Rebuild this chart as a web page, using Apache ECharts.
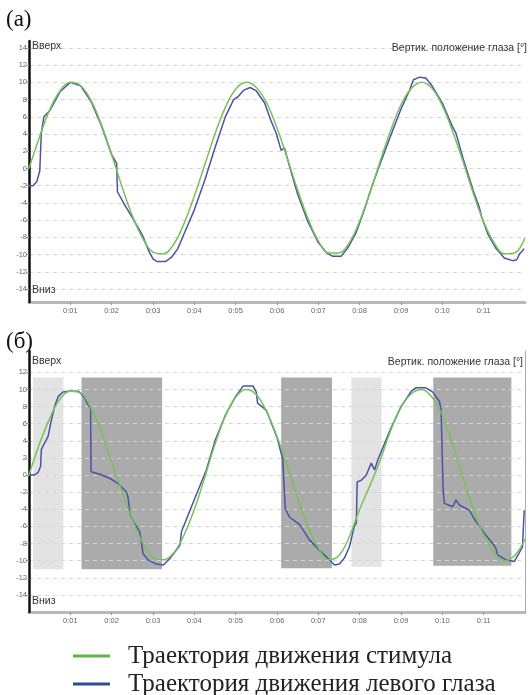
<!DOCTYPE html>
<html>
<head>
<meta charset="utf-8">
<script src="https://cdn.jsdelivr.net/npm/echarts@6.0.0/dist/echarts.min.js"></script>
<style>
  html, body { margin: 0; padding: 0; background: #fff; }
  #chart { width: 532px; height: 695px; }
</style>
</head>
<body>
<div id="chart"></div>
<script>
// time axis of the stimulus (seconds)
const stimTime = [0, 0.25, 0.5, 0.75, 1, 1.25, 1.5, 1.75, 2, 2.25, 2.5, 2.75, 3, 3.25, 3.5, 3.75,
  4, 4.25, 4.5, 4.75, 5, 5.25, 5.5, 5.75, 6, 6.25, 6.5, 6.75, 7, 7.25, 7.5, 7.75,
  8, 8.25, 8.5, 8.75, 9, 9.25, 9.5, 9.75, 10, 10.25, 10.5, 10.75, 11, 11.25, 11.5, 11.75, 12];

// panel (a) stimulus
const stimA = [0, 3.6, 6.8, 9.0, 10.0, 9.6, 7.9, 5.1, 1.6, -2.1, -5.5, -8.1, -9.7, -9.9, -8.8, -6.4,
  -3.2, 0.4, 4.0, 7.1, 9.2, 10.0, 9.4, 7.6, 4.7, 1.2, -2.5, -5.8, -8.4, -9.8, -9.8, -8.6,
  -6.1, -2.8, 0.9, 4.4, 7.4, 9.3, 10.0, 9.3, 7.3, 4.3, 0.8, -2.9, -6.2, -8.6, -9.9, -9.8, -8.0];

// panel (б) stimulus
const stimB = [0, 3.6, 6.6, 8.9, 9.8, 9.6, 7.8, 5.0, 1.5, -1.9, -5.2, -7.9, -9.6, -9.9, -9.1, -7.0,
  -4.0, -0.3, 3.6, 6.9, 9.1, 10.0, 9.4, 7.4, 4.5, 1.0, -2.7, -6.0, -8.5, -9.9, -9.4, -7.2,
  -4.0, -1.2, 1.8, 5.2, 7.9, 9.5, 10.0, 9.1, 7.0, 3.6, -0.3, -4.0, -7.0, -9.0, -10.0, -9.4, -7.5];

// panel (a) left eye
const eyeATime = [0, 0.1, 0.19, 0.26, 0.28, 0.3, 0.36, 0.5, 0.75, 1.0, 1.25, 1.5, 1.75, 2.0, 2.12,
  2.14, 2.3, 2.5, 2.75, 2.9, 3.0, 3.1, 3.3, 3.45, 3.6, 3.75, 4.0, 4.25, 4.5, 4.75,
  4.95, 5.05, 5.2, 5.35, 5.5, 5.7, 5.85, 5.98, 6.1, 6.18, 6.3, 6.5, 6.75, 7.0, 7.2,
  7.35, 7.55, 7.7, 7.9, 8.1, 8.3, 8.5, 8.75, 9.0, 9.2, 9.3, 9.45, 9.6, 9.75, 10.0,
  10.25, 10.33, 10.5, 10.75, 10.9, 10.95, 11.1, 11.3, 11.5, 11.7, 11.8, 11.87, 11.93, 11.98];
const eyeA = [-2.0, -2.0, -1.5, -0.3, 2.0, 4.2, 6.0, 6.7, 8.9, 10.0, 9.6, 7.8, 5.0, 1.6, 0.6,
  -2.7, -4.1, -5.7, -7.8, -9.6, -10.5, -10.8, -10.8, -10.3, -9.3, -7.6, -4.8, -1.4, 2.4, 6.0,
  8.0, 8.3, 9.1, 9.4, 9.0, 7.6, 5.6, 4.1, 2.1, 2.4, 0.3, -3.0, -6.2, -8.6, -9.8,
  -10.2, -10.2, -9.3, -7.6, -5.0, -2.0, 0.6, 3.8, 6.9, 9.0, 10.3, 10.6, 10.5, 9.6, 7.6,
  4.8, 4.1, 1.2, -2.6, -4.6, -5.6, -7.6, -9.3, -10.4, -10.7, -10.6, -9.9, -9.6, -9.3];

// panel (б) left eye
const eyeBTime = [0, 0.12, 0.22, 0.28, 0.3, 0.34, 0.46, 0.54, 0.63, 0.71, 0.82, 0.95, 1.2, 1.35,
  1.43, 1.49, 1.5, 1.72, 1.96, 2.16, 2.36, 2.4, 2.44, 2.52, 2.68, 2.72, 2.76, 2.88, 3.08,
  3.25, 3.4, 3.65, 3.69, 3.93, 4.29, 4.5, 4.75, 5.0, 5.18, 5.42, 5.5, 5.53, 5.74, 6.0,
  6.14, 6.2, 6.3, 6.55, 6.79, 7.03, 7.27, 7.39, 7.51, 7.63, 7.75, 7.87, 7.92, 7.94, 8.04,
  8.16, 8.28, 8.36, 8.44, 8.75, 9.0, 9.25, 9.36, 9.6, 9.77, 9.93, 9.97, 10.0, 10.02,
  10.05, 10.25, 10.33, 10.41, 10.65, 10.81, 11.05, 11.25, 11.3, 11.33, 11.54, 11.74, 11.94, 11.98];
const eyeB = [0, 0, 0.3, 1.0, 3.0, 3.4, 4.5, 6.4, 8.2, 9.2, 9.7, 9.8, 9.8, 9.0,
  8.2, 7.8, 0.4, 0.1, -0.4, -1.0, -2.0, -2.7, -4.5, -5.4, -6.6, -7.8, -9.2, -9.9, -10.4,
  -10.5, -9.8, -8.2, -6.6, -3.7, 0.6, 4.0, 7.0, 9.2, 10.4, 10.4, 9.7, 8.4, 7.6, 4.4,
  1.8, -3.9, -4.9, -5.8, -7.6, -8.8, -9.9, -10.5, -10.4, -9.7, -8.4, -6.0, -5.6, -0.8, -0.6,
  0.0, 1.4, 0.6, 1.8, 5.4, 8.0, 9.8, 10.2, 10.2, 9.7, 8.6, 7.6, 1.8, -1.8,
  -3.3, -3.7, -2.9, -3.5, -4.1, -5.4, -7.0, -8.2, -8.6, -9.3, -9.9, -10.1, -8.4, -4.1];

// shaded intervals in panel (б): [from, to, top, bottom]
const lightShades = [[0.10, 0.83, 11.4, -11.0], [7.80, 8.53, 11.4, -10.7]];
const darkShades = [[1.27, 3.22, 11.4, -11.0], [6.10, 7.33, 11.4, -10.9], [9.78, 11.67, 11.4, -10.6]];

const yTicksA = [-14, -12, -10, -8, -6, -4, -2, 0, 2, 4, 6, 8, 10, 12, 14];
const yTicksB = [-14, -12, -10, -8, -6, -4, -2, 0, 2, 4, 6, 8, 10, 12];
const xTicks = [1, 2, 3, 4, 5, 6, 7, 8, 9, 10, 11];
const xTickLabels = ['0:01', '0:02', '0:03', '0:04', '0:05', '0:06', '0:07', '0:08', '0:09', '0:10', '0:11'];

const nameStim = 'Траектория движения стимула';
const nameEye = 'Траектория движения левого глаза';

const zip = (xs, ys) => xs.map((x, i) => [x, ys[i]]);

const chart = echarts.init(document.getElementById('chart'));

const sansFont = 'Liberation Sans';
const xAxisBase = (gi) => ({
  gridIndex: gi,
  type: 'value',
  min: 0,
  max: 12,
  axisLine: { show: true, onZero: false, lineStyle: { color: '#b8b8b8', width: 3 } },
  axisTick: { show: true, customValues: xTicks, length: 3, lineStyle: { color: '#999' } },
  axisLabel: {
    customValues: xTicks, margin: 5, fontSize: 7.5, color: '#666', fontFamily: sansFont,
    formatter: (v) => xTickLabels[xTicks.indexOf(Math.round(v))] || ''
  },
  splitLine: { show: false }
});
const yAxisBase = (gi, min, max, ticks) => ({
  gridIndex: gi,
  type: 'value',
  min: min,
  max: max,
  z: 2,
  axisLine: { show: true, onZero: false, lineStyle: { color: '#111', width: 2.5 } },
  axisTick: { show: true, customValues: ticks, length: 3, lineStyle: { color: '#999' } },
  axisLabel: { customValues: ticks, margin: 2, fontSize: 7.5, color: '#666', fontFamily: sansFont },
  splitLine: { show: true, lineStyle: { type: [4, 4], color: '#d6d6d6', width: 1 } }
});

const shadeData = [];
lightShades.forEach((s) => shadeData.push([
  { xAxis: s[0], yAxis: s[2], itemStyle: { color: 'rgba(200,200,200,0.5)' } },
  { xAxis: s[1], yAxis: s[3] }
]));
darkShades.forEach((s) => shadeData.push([
  { xAxis: s[0], yAxis: s[2], itemStyle: { color: 'rgba(120,120,120,0.62)' } },
  { xAxis: s[1], yAxis: s[3] }
]));

const green = '#76c257';
const blue = '#4c52a6';

const lineSeries = (name, xi, data, color, smooth) => ({
  name: name,
  type: 'line',
  xAxisIndex: xi,
  yAxisIndex: xi,
  data: data,
  showSymbol: false,
  symbol: 'none',
  smooth: smooth,
  z: 3,
  lineStyle: { color: color, width: 1.5 },
  itemStyle: { color: color },
  emphasis: { disabled: true },
  animation: false
});

const textLabel = (text, pos) => Object.assign({
  type: 'text',
  z: 10,
  style: { text: text, font: '10.5px "Liberation Sans"', fill: '#333' }
}, pos);

const legendBase = (top, item) => ({
  orient: 'vertical',
  left: 68,
  top: top,
  itemWidth: 37,
  itemHeight: 3,
  icon: 'rect',
  selectedMode: false,
  textStyle: { fontFamily: 'Liberation Serif', fontSize: 25, color: '#222', lineHeight: 28, padding: [0, 0, 0, 13] },
  data: [item]
});

const option = {
  animation: false,
  grid: [
    { left: 29, right: 7, top: 41, height: 261, containLabel: false, outerBoundsMode: 'none' },
    { left: 29, right: 7, top: 351, height: 261, containLabel: false, outerBoundsMode: 'none' }
  ],
  xAxis: [xAxisBase(0), xAxisBase(1)],
  yAxis: [
    yAxisBase(0, -15.5, 14.8, yTicksA),
    yAxisBase(1, -16, 14.5, yTicksB),
    {
      gridIndex: 1, type: 'value', min: -16, max: 14.5, position: 'right',
      axisLine: { show: true, onZero: false, lineStyle: { color: '#aaa', width: 1 } },
      axisTick: { show: false }, axisLabel: { show: false }, splitLine: { show: false }
    }
  ],
  legend: [
    legendBase(637, { name: nameStim, itemStyle: { color: '#5cb848' } }),
    legendBase(665, { name: nameEye, itemStyle: { color: '#2d4a9c' } })
  ],
  series: [
    lineSeries(nameEye, 0, zip(eyeATime, eyeA), blue, false),
    lineSeries(nameStim, 0, zip(stimTime, stimA), green, 0.4),
    {
      name: 'shade',
      type: 'line',
      xAxisIndex: 1,
      yAxisIndex: 1,
      data: [],
      z: 1,
      silent: true,
      markArea: { silent: true, data: shadeData }
    },
    lineSeries(nameEye, 1, zip(eyeBTime, eyeB), blue, false),
    lineSeries(nameStim, 1, zip(stimTime, stimB), green, 0.4)
  ],
  graphic: [
    { type: 'text', left: 6, top: 8, style: { text: '(а)', font: '23px "Liberation Serif"', fill: '#111' } },
    { type: 'text', left: 6, top: 330, style: { text: '(б)', font: '23px "Liberation Serif"', fill: '#111' } },
    textLabel('Вверх', { left: 32, top: 41 }),
    textLabel('Вниз', { left: 32, top: 285 }),
    textLabel('Вертик. положение глаза [°]', { right: 5, top: 43 }),
    textLabel('Вверх', { left: 32, top: 356 }),
    textLabel('Вниз', { left: 32, top: 596 }),
    textLabel('Вертик. положение глаза [°]', { right: 9, top: 357 })
  ]
};

chart.setOption(option);
</script>
</body>
</html>
